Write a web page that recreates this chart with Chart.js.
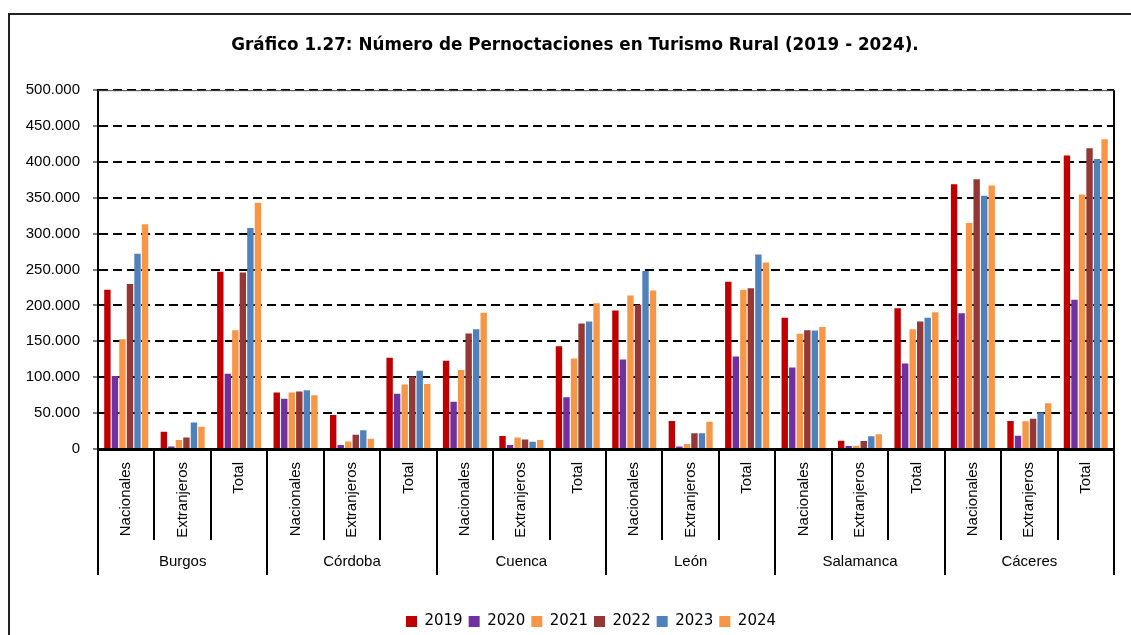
<!DOCTYPE html>
<html>
<head>
<meta charset="utf-8">
<script src="https://cdn.jsdelivr.net/npm/chart.js@4/dist/chart.umd.min.js"></script>
<style>
  html, body { margin: 0; padding: 0; background: #fff; }
  #wrap { width: 1131px; height: 635px; position: relative; }
</style>
</head>
<body>
<div id="wrap"><canvas id="c" width="1131" height="635"></canvas></div>
<script>
const titleText = 'Gráfico 1.27: Número de Pernoctaciones en Turismo Rural (2019 - 2024).';
const groups = ['Burgos', 'Córdoba', 'Cuenca', 'León', 'Salamanca', 'Cáceres'];
const subcats = ['Nacionales', 'Extranjeros', 'Total'];
const categories = groups.flatMap(() => subcats);
const years = ['2019', '2020', '2021', '2022', '2023', '2024'];
const yearColors = ['#C00000', '#7030A0', '#F79646', '#953735', '#4F81BD', '#F79646'];

const v2019 = [222000, 24000, 247000, 78600, 47500, 127000, 123000, 18000, 143000, 193000, 39000, 233000, 183000, 11600, 196000, 369000, 39000, 409000];
const v2020 = [101700, 3500, 105000, 70000, 5600, 77000, 66000, 5600, 72000, 124600, 3500, 129000, 113500, 4200, 119000, 189000, 18600, 208000];
const v2021 = [153000, 12500, 165500, 78600, 10600, 90000, 110000, 16000, 126000, 214000, 7000, 222000, 160500, 4500, 167000, 315000, 38600, 354500];
const v2022 = [230000, 16000, 246000, 80000, 20000, 101000, 161000, 13400, 175000, 201000, 21800, 224000, 165500, 11000, 177600, 376000, 42300, 419000];
const v2023 = [272000, 37000, 308000, 82000, 26000, 109000, 167000, 10000, 177600, 248000, 21800, 271000, 165000, 17600, 183000, 353000, 50700, 404000];
const v2024 = [313000, 31000, 343000, 75000, 14400, 90700, 190000, 12600, 203000, 221000, 38000, 260000, 170000, 20400, 190600, 367000, 63700, 431600];
const seriesValues = [v2019, v2020, v2021, v2022, v2023, v2024];

const yMin = 0, yMax = 500000, yStep = 50000;

function fmt(v) {
  return String(Math.round(v)).replace(/\B(?=(\d{3})+(?!\d))/g, '.');
}

const framePlugin = {
  id: 'framePlugin',
  afterLayout(chart) {
    const lg = chart.legend;
    if (lg) {
      lg.left += 34; lg.right += 34;
      lg.top += 12; lg.bottom += 12;
    }
    const tb = chart.titleBlock;
    if (tb) {
      tb.left += 18; tb.right += 18;
    }
  },
  beforeDraw(chart) {
    const ctx = chart.ctx;
    ctx.save();
    ctx.strokeStyle = '#222';
    ctx.lineWidth = 2;
    ctx.beginPath();
    ctx.moveTo(9, 635);
    ctx.lineTo(9, 14);
    ctx.lineTo(1131, 14);
    ctx.stroke();
    ctx.restore();
  },
  afterDraw(chart) {
    const ctx = chart.ctx;
    const ca = chart.chartArea;
    const xs = chart.scales.x;
    ctx.save();
    ctx.strokeStyle = '#444';
    ctx.lineWidth = 1;
    ctx.beginPath();
    ctx.moveTo(ca.left, ca.top + 0.5);
    ctx.lineTo(ca.right, ca.top + 0.5);
    ctx.stroke();
    ctx.strokeStyle = '#000';
    ctx.lineWidth = 2;
    ctx.beginPath();
    ctx.moveTo(ca.right, ca.top);
    ctx.lineTo(ca.right, ca.bottom);
    ctx.stroke();
    const n = categories.length;
    const bounds = [];
    for (let i = 0; i <= n; i++) {
      let x;
      if (i === 0) x = ca.left;
      else if (i === n) x = ca.right;
      else x = (xs.getPixelForValue(i - 1) + xs.getPixelForValue(i)) / 2;
      bounds.push(x);
    }
    ctx.strokeStyle = '#000';
    ctx.lineWidth = 2;
    for (let i = 0; i <= n; i++) {
      const isGroup = i % subcats.length === 0;
      const x = Math.round(bounds[i]);
      ctx.beginPath();
      ctx.moveTo(x, ca.bottom);
      ctx.lineTo(x, ca.bottom + (isGroup ? 126 : 91));
      ctx.stroke();
    }
    ctx.fillStyle = '#000';
    ctx.font = '15px "Liberation Sans", Arial, sans-serif';
    ctx.textAlign = 'center';
    ctx.textBaseline = 'middle';
    groups.forEach((g, gi) => {
      const x0 = bounds[gi * subcats.length];
      const x1 = bounds[(gi + 1) * subcats.length];
      ctx.fillText(g, (x0 + x1) / 2, ca.bottom + 113);
    });
    ctx.restore();
  }
};

const datasets = years.map((y, i) => ({
  label: y,
  data: seriesValues[i],
  backgroundColor: yearColors[i],
  borderWidth: 0,
  barPercentage: 0.85,
  categoryPercentage: 0.8
}));

new Chart(document.getElementById('c'), {
  type: 'bar',
  data: { labels: categories, datasets },
  plugins: [framePlugin],
  options: {
    responsive: false,
    animation: false,
    layout: { padding: { left: 0, right: 17, top: 0, bottom: 8 } },
    plugins: {
      title: {
        display: true,
        text: titleText,
        color: '#000',
        font: { family: '"DejaVu Sans", sans-serif', size: 16.8, weight: 'bold' },
        padding: { top: 36, bottom: 34 }
      },
      legend: {
        position: 'bottom',
        labels: {
          boxWidth: 11,
          boxHeight: 11,
          padding: 6,
          color: '#000',
          font: { family: '"DejaVu Sans", sans-serif', size: 15 }
        }
      },
      tooltip: { enabled: false }
    },
    scales: {
      x: {
        grid: { display: false },
        border: { display: true, color: '#000', width: 3 },
        ticks: {
          autoSkip: false,
          minRotation: 90,
          maxRotation: 90,
          padding: 5,
          color: '#000',
          font: { family: '"Liberation Sans", Arial, sans-serif', size: 15 }
        },
        afterFit(scale) { scale.height = 147; }
      },
      y: {
        min: yMin,
        max: yMax,
        ticks: {
          stepSize: yStep,
          padding: 13,
          color: '#000',
          font: { family: '"Liberation Sans", Arial, sans-serif', size: 15 },
          callback: (v) => fmt(v)
        },
        grid: {
          color: '#000',
          lineWidth: 2,
          drawTicks: true,
          tickLength: 5,
          tickColor: '#000',
          tickWidth: 1,
          tickBorderDash: [1, 0]
        },
        border: { display: true, color: '#000', width: 2, dash: [9, 5] },
        afterFit(scale) { scale.width = 98; }
      }
    }
  }
});
</script>
</body>
</html>
